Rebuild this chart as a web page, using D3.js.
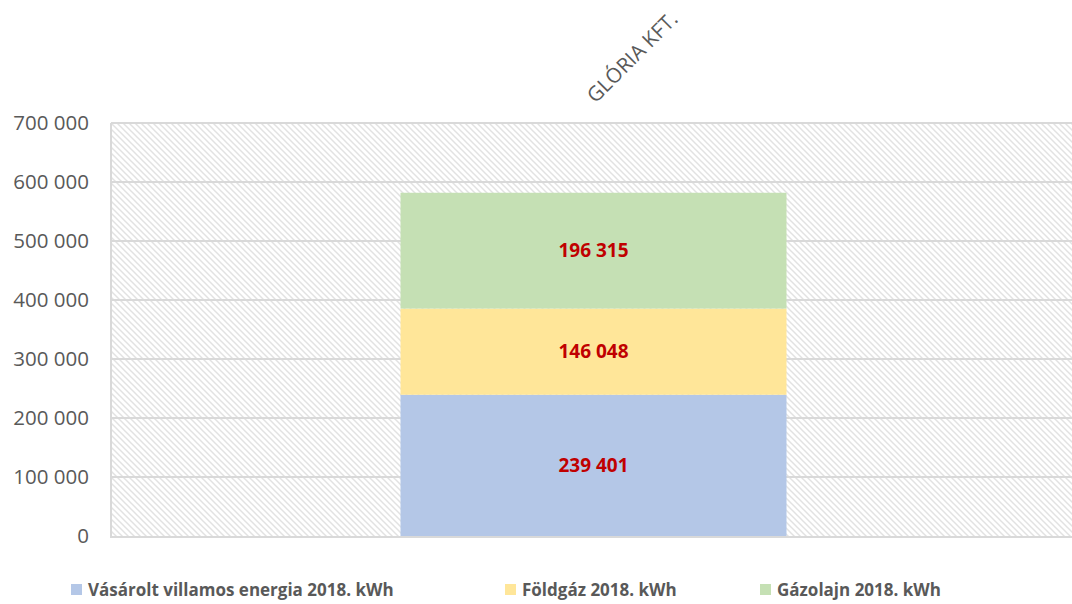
<!DOCTYPE html>
<html>
<head>
<meta charset="utf-8">
<script src="https://cdn.jsdelivr.net/npm/d3@7"></script>
<style>
  body { margin: 0; background: #fff; }
  text { font-family: "Open Sans", sans-serif; }
</style>
</head>
<body>
<div id="chart"></div>
<script>
// data
var categories = ["GLÓRIA KFT."];
var seriesNames = ["Vásárolt villamos energia 2018. kWh", "Földgáz 2018. kWh", "Gázolajn 2018. kWh"];
var seriesColors = ["#b4c7e7", "#ffe699", "#c5e0b4"];
var villamos = [239401];
var foldgaz = [146048];
var gazolaj = [196315];
var yTicks = [0, 100000, 200000, 300000, 400000, 500000, 600000, 700000];

var width = 1072, height = 604;
var margin = {top: 123, left: 111, right: -4, bottom: 68};

var svg = d3.select("#chart").append("svg")
    .attr("width", width)
    .attr("height", height);

// hatch pattern for plot background
var defs = svg.append("defs");
var pat = defs.append("pattern")
    .attr("id", "hatch")
    .attr("patternUnits", "userSpaceOnUse")
    .attr("width", 6).attr("height", 6);
pat.append("path")
    .attr("d", "M-1,-1 L7,7 M-1,5 L1,7 M5,-1 L7,1")
    .attr("stroke", "#e2e2e2")
    .attr("stroke-width", 1.5);

var x = d3.scaleBand()
    .domain(categories)
    .range([margin.left, width - margin.right])
    .paddingInner(0)
    .paddingOuter(0.75);

var y = d3.scaleLinear()
    .domain([0, 700000])
    .range([height - margin.bottom, margin.top]);

var fmt = function(v) { return d3.format(",")(v).replace(/,/g, " "); };

// plot area
svg.append("rect")
    .attr("x", margin.left).attr("y", y(700000))
    .attr("width", width - margin.left)
    .attr("height", y(0) - y(700000))
    .attr("fill", "url(#hatch)");

// gridlines
svg.append("g").selectAll("line")
    .data(yTicks.slice(1))
    .enter().append("line")
    .attr("x1", margin.left).attr("x2", width)
    .attr("y1", function(d) { return y(d); })
    .attr("y2", function(d) { return y(d); })
    .attr("stroke", "#d9d9d9")
    .attr("stroke-width", 2);

// left border
svg.append("line")
    .attr("x1", margin.left).attr("x2", margin.left)
    .attr("y1", y(700000)).attr("y2", y(0))
    .attr("stroke", "#d9d9d9").attr("stroke-width", 2);

// y axis labels
var yAxis = d3.axisLeft(y).tickValues(yTicks).tickFormat(fmt).tickSize(0).tickPadding(22);
var ya = svg.append("g")
    .attr("transform", "translate(" + margin.left + ",0)")
    .call(yAxis);
ya.select(".domain").remove();
ya.selectAll("text")
    .style("font-family", "'Open Sans', sans-serif")
    .style("font-size", "20.5px")
    .attr("fill", "#595959");

// stacked bars
var rows = categories.map(function(c, i) {
  return {cat: c, v0: villamos[i], v1: foldgaz[i], v2: gazolaj[i]};
});
var stack = d3.stack().keys(["v0", "v1", "v2"]);
var layers = stack(rows);

layers.forEach(function(layer, li) {
  svg.append("g").selectAll("rect")
    .data(layer)
    .enter().append("rect")
    .attr("x", function(d) { return x(d.data.cat); })
    .attr("width", x.bandwidth())
    .attr("y", function(d) { return y(d[1]); })
    .attr("height", function(d) { return y(d[0]) - y(d[1]); })
    .attr("fill", seriesColors[li]);

  svg.append("g").selectAll("text")
    .data(layer)
    .enter().append("text")
    .attr("x", function(d) { return x(d.data.cat) + x.bandwidth() / 2; })
    .attr("y", function(d) { return (y(d[0]) + y(d[1])) / 2; })
    .attr("dy", "0.35em")
    .attr("text-anchor", "middle")
    .style("font-size", "19px")
    .style("font-weight", "bold")
    .attr("fill", "#c00000")
    .text(function(d) { return fmt(d[1] - d[0]); });
});

// bottom axis line
svg.append("line")
    .attr("x1", margin.left - 1).attr("x2", width)
    .attr("y1", y(0) + 1).attr("y2", y(0) + 1)
    .attr("stroke", "#d9d9d9").attr("stroke-width", 2);

// category label, rotated, at top
svg.append("g").selectAll("text")
    .data(categories)
    .enter().append("text")
    .attr("transform", function(d) {
      return "translate(" + (x(d) + x.bandwidth() / 2 + 2) + ",104) rotate(-45)";
    })
    .attr("text-anchor", "start")
    .style("font-size", "20.5px")
    .attr("fill", "#595959")
    .text(function(d) { return d; });

// legend
var legendX = [71, 505, 760];
var lg = svg.append("g").selectAll("g")
    .data(seriesNames)
    .enter().append("g")
    .attr("transform", function(d, i) { return "translate(" + legendX[i] + ",584)"; });
lg.append("rect")
    .attr("width", 11).attr("height", 11)
    .attr("fill", function(d, i) { return seriesColors[i]; });
lg.append("text")
    .attr("x", 17).attr("y", 11.5)
    .style("font-size", "17px")
    .style("font-weight", "bold")
    .attr("fill", "#595959")
    .text(function(d) { return d; });
</script>
</body>
</html>
